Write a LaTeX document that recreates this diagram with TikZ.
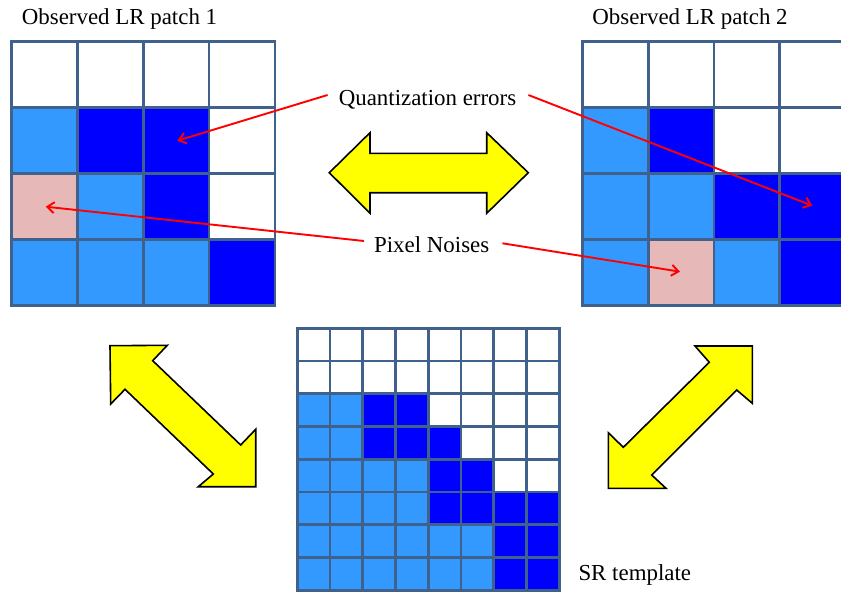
\documentclass[tikz,border=0pt]{standalone}
\usepackage{fontspec}
\setmainfont{Liberation Serif}
\usetikzlibrary{arrows.meta}
\definecolor{L}{HTML}{3399FF}
\definecolor{D}{HTML}{0000FF}
\definecolor{P}{HTML}{E6B9B8}
\definecolor{W}{HTML}{FFFFFF}
\definecolor{gridc}{HTML}{3F618C}
\definecolor{yel}{HTML}{FFFF00}
\tikzset{
  lbl/.style={font=\fontsize{22.9}{26}\selectfont, inner sep=0pt, anchor=base},
  gridline/.style={draw=gridc, line width=2.8pt, line cap=rect},
  bigarrow/.style={fill=yel, draw=black, line width=1.6pt, line join=miter},
  redarrow/.style={draw=red, line width=1.9pt, -{Straight Barb[length=7pt,width=11pt,line width=1.9pt]}}
}
\newcommand{\patchgrid}[5]{% x0 y0 cell n rows
  \foreach \rowlist [count=\r from 0] in {#5} {
    \foreach \c [count=\k from 0] in \rowlist {
      \fill[\c] (#1+\k*#3, #2+\r*#3) rectangle ++(#3,#3);
    }
  }
  \foreach \i in {0,...,#4} {
    \draw[gridline] (#1+\i*#3, #2) -- (#1+\i*#3, #2+#4*#3);
    \draw[gridline] (#1, #2+\i*#3) -- (#1+#4*#3, #2+\i*#3);
  }
}
\begin{document}
\begin{tikzpicture}[x=1pt,y=-1pt]
\useasboundingbox (0,0) rectangle (841,594);
\clip (0,0) rectangle (841,594);

% LR patch 1
\patchgrid{11.5}{41.7}{65.85}{4}{{W,W,W,W},{L,D,D,W},{P,L,D,W},{L,L,L,D}}
% LR patch 2
\patchgrid{582.3}{41.7}{65.85}{4}{{W,W,W,W},{L,D,W,W},{L,L,D,D},{L,P,L,D}}
% SR template
\patchgrid{297.3}{328.3}{32.75}{8}{{W,W,W,W,W,W,W,W},{W,W,W,W,W,W,W,W},{L,L,D,D,W,W,W,W},{L,L,D,D,D,W,W,W},{L,L,L,L,D,D,W,W},{L,L,L,L,D,D,D,D},{L,L,L,L,L,L,D,D},{L,L,L,L,L,L,D,D}}

% labels
\node[lbl] (t1) at (119.5,25) {Observed LR patch 1};
\node[lbl] (t2) at (690,25) {Observed LR patch 2};
\node[lbl] (qe) at (427.5,105) {Quantization errors};
\node[lbl] (pn) at (431.7,252.3) {Pixel Noises};
\node[lbl, anchor=base west] (sr) at (578.3,580) {SR template};

% yellow double arrows
\draw[bigarrow] (329.3,172.7) -- (370,132.7) -- (370,153.3) -- (486.7,153.3) -- (486.7,132.7)
  -- (528.3,172.7) -- (486.7,213.3) -- (486.7,192.7) -- (370,192.7) -- (370,213.3) -- cycle;
\draw[bigarrow] (110,345.7) -- (167.3,345.3) -- (152.7,360.7) -- (240.7,445) -- (255.7,429.3)
  -- (255.7,486.7) -- (198.3,486.7) -- (213.3,474) -- (125,389.3) -- (110.7,404) -- cycle;
\draw[bigarrow] (752.3,346) -- (752.3,403.3) -- (736.7,390) -- (651.7,475) -- (666,488.3)
  -- (608.3,488.3) -- (608.3,432.7) -- (623.3,447.3) -- (709.3,362.3) -- (695,346) -- cycle;

% red arrows
\coordinate (q1) at (177.3,140.7);
\coordinate (q2) at (812.3,205.7);
\coordinate (p1) at (45.7,206.7);
\coordinate (p2) at (680,271.7);
\draw[redarrow] (qe.west |- 0,95) ++(-11,0) -- (q1);
\draw[redarrow] (qe.east |- 0,95) ++(12,0) -- (q2);
\draw[redarrow] (pn.west |- 0,241) ++(-10,0) -- (p1);
\draw[redarrow] (pn.east |- 0,243.3) ++(13,0) -- (p2);
\end{tikzpicture}
\end{document}
